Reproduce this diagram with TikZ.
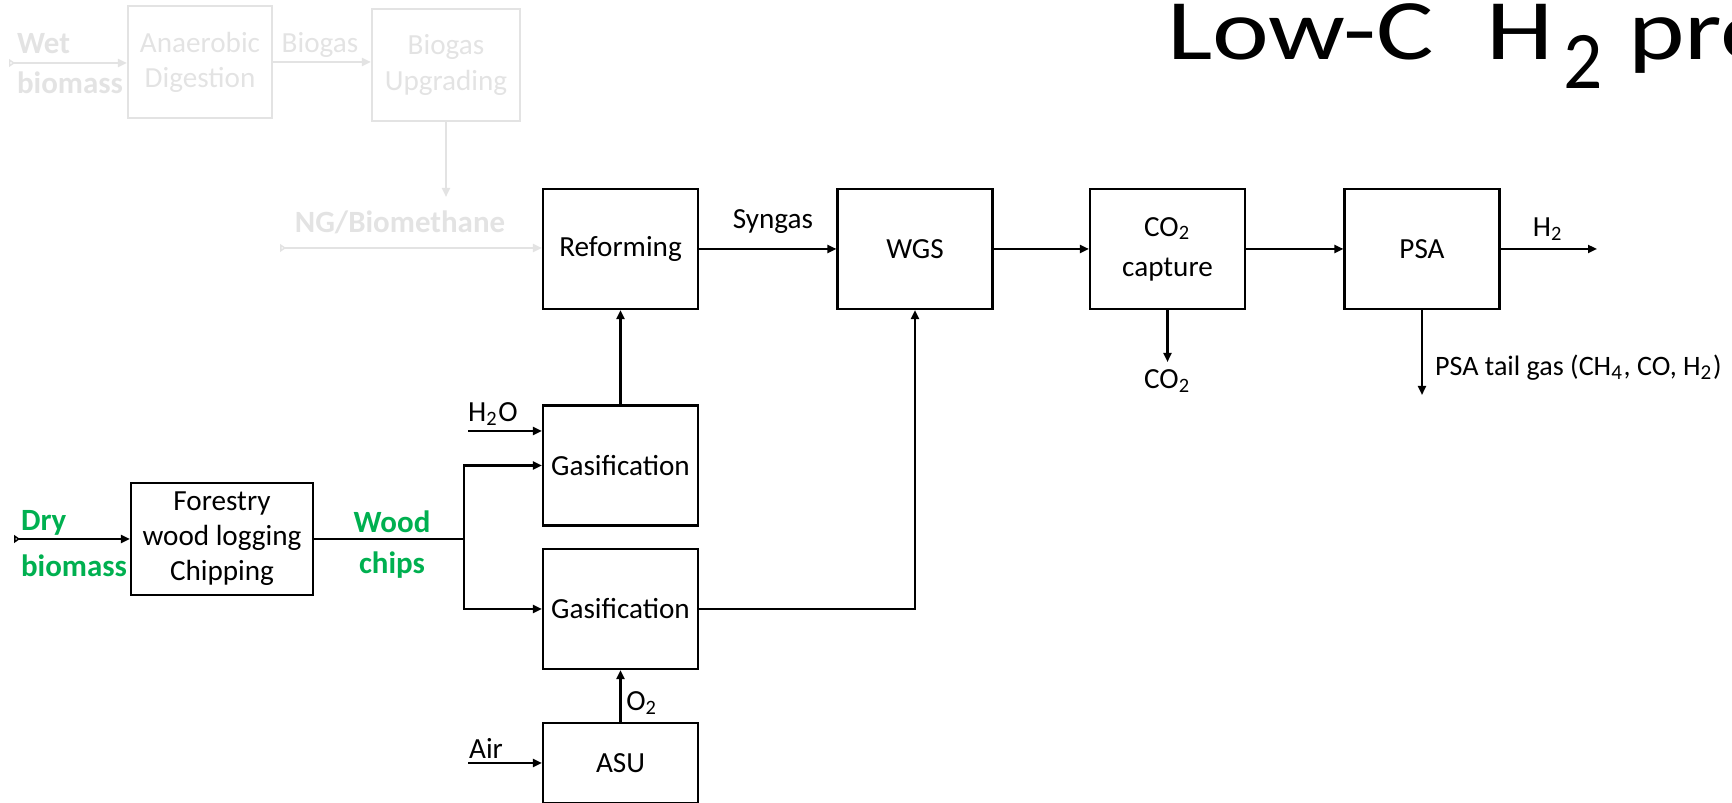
\documentclass[tikz,border=0pt]{standalone}
\usepackage{fontspec}
\setmainfont{Carlito}
\usepackage{graphicx}
\usetikzlibrary{arrows.meta}

\definecolor{biogreen}{HTML}{00B050}
\definecolor{paleline}{HTML}{E3E3E3}

\begin{document}
\begin{tikzpicture}[x=0.1mm, y=-0.1mm, line width=0.6pt,
    font=\fontsize{8.3pt}{10pt}\selectfont,
    unit/.style={draw, align=center, inner sep=0pt, minimum width=15.5mm, minimum height=12mm},
    flow/.style={-{Triangle[length=0.9mm, width=0.8mm]}},
    feed/.style={{Triangle[open, reversed, length=0.6mm, width=0.8mm]}-{Triangle[length=0.9mm, width=0.8mm]}},
    tag/.style={inner sep=0pt, align=center},
    boldtag/.style={inner sep=0pt, align=left, font=\fontsize{8.8pt}{11.5pt}\selectfont\bfseries},
    pale/.style={draw=paleline, text=paleline}]
    \useasboundingbox (0,0) rectangle (1732,803);

    % Title, cut at the right edge
    \node[tag, anchor=base west, font=\fontsize{24.5pt}{26pt}\selectfont] (title) at (1166,60)
        {\scalebox{1.25}[1]{Low-C\hspace{0.49em}H\kern0.09em\raisebox{-0.33em}{\scalebox{0.72}[0.95]{2}}\hspace{0.24em}pro}};

    % Biogas route (faded)
    \node[unit, pale, minimum width=14.4mm, minimum height=11.2mm] (digest) at (200,62) {Anaerobic\\Digestion};
    \node[unit, pale, minimum width=14.8mm, minimum height=11.2mm] (upgrade) at (446,65) {Biogas\\Upgrading};
    \node[boldtag, text=paleline, anchor=north west] (wet) at (16,32) {Wet\\biomass};
    \coordinate (wet in) at (9,63);
    \draw[feed, paleline] (wet in) -- (wet in -| digest.west);
    \draw[flow, paleline] (digest.east) -- (digest.east -| upgrade.west);
    \node[tag, text=paleline] (biogas) at (320,45) {Biogas};
    \coordinate (ng top) at (446,197);
    \draw[flow, paleline] (upgrade) -- (ng top);
    \node[tag, text=paleline, font=\fontsize{8.8pt}{10pt}\selectfont\bfseries] (ng) at (400,222) {NG/Biomethane};

    % Main units
    \node[unit] (reform) at (620.5,249) {Reforming};
    \node[unit] (wgs) at (915,249) {WGS};
    \node[unit] (capture) at (1167.5,249) {CO\textsubscript{2}\\[1.4pt]capture};
    \node[unit] (psa) at (1422,249) {PSA};
    \node[unit] (gasA) at (620.5,465.5) {Gasification};
    \node[unit] (gasB) at (620.5,609) {Gasification};
    \node[unit, minimum height=8mm] (asu) at (620.5,763) {ASU};
    \node[unit, minimum width=18.2mm, minimum height=11.2mm] (forest) at (222,539) {Forestry\\wood logging\\Chipping};

    \coordinate (ng in) at (280,248);
    \draw[feed, paleline] (ng in) -- (ng in -| reform.west);

    % Gas line
    \draw[flow] (reform) -- (wgs);
    \node[tag] (syngas) at (773,222) {Syngas};
    \draw[flow] (wgs) -- (capture);
    \draw[flow] (capture) -- (psa);
    \coordinate (h2 out) at (1597,249);
    \draw[flow] (psa) -- (h2 out);
    \node[tag] (h2) at (1548,229) {H\textsubscript{2}};
    \coordinate (co2 out) at (1167.5,362);
    \draw[flow] (capture) -- (co2 out);
    \node[tag] (co2) at (1167.5,381) {CO\textsubscript{2}};
    \coordinate (tail out) at (1422,395);
    \draw[flow] (psa) -- (tail out);
    \node[tag, anchor=west, font=\fontsize{8pt}{10pt}\selectfont] (tail) at (1434,368) {PSA tail gas (CH\textsubscript{4}, CO, H\textsubscript{2})};

    % Gasifiers
    \draw[flow] (gasA) -- (reform);
    \draw[flow] (gasB) -| (wgs);
    \draw[flow] (asu) -- (gasB);
    \node[tag] (o2) at (642,703) {O\textsubscript{2}};
    \coordinate (air in) at (468,763);
    \draw[flow] (air in) -- (asu);
    \node[tag] (air) at (486,748) {Air};
    \coordinate (h2o in) at (468,431);
    \draw[flow] (h2o in) -- (h2o in -| gasA.west);
    \node[tag] (h2o) at (493,414) {H\textsubscript{2}O};

    % Dry biomass
    \coordinate (dry in) at (14,539);
    \draw[feed] (dry in) -- (forest);
    \node[boldtag, text=biogreen, anchor=north west, font=\fontsize{8.8pt}{13.2pt}\selectfont\bfseries] (dry) at (20,509) {Dry\\biomass};
    \coordinate (split) at (464,539);
    \draw (forest) -- (split);
    \draw[flow] (split) |- (gasA);
    \draw[flow] (split) |- (gasB);
    \node[boldtag, text=biogreen, align=center, anchor=north] (chips) at (392,510) {Wood\\chips};
\end{tikzpicture}
\end{document}
